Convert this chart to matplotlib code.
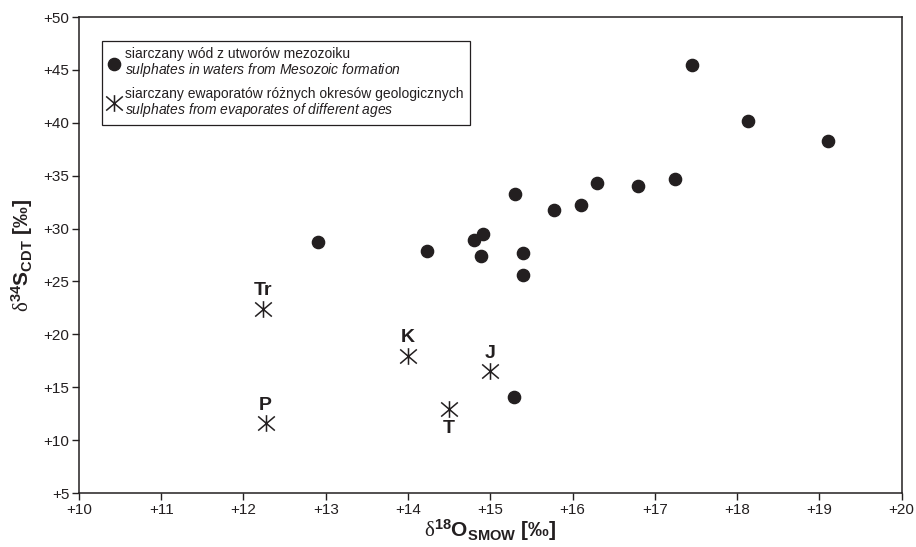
import matplotlib
matplotlib.use('Agg')
import matplotlib.pyplot as plt
from matplotlib.lines import Line2D
from matplotlib.path import Path

plt.rcParams['font.family'] = ['Liberation Sans', 'DejaVu Sans']
plt.rcParams['mathtext.fontset'] = 'custom'
plt.rcParams['mathtext.rm'] = 'Liberation Sans:bold'
plt.rcParams['mathtext.it'] = 'Liberation Sans:italic'
plt.rcParams['mathtext.bf'] = 'Liberation Sans:bold'
plt.rcParams['mathtext.sf'] = 'Liberation Serif'

# sulphates in waters from Mesozoic formation
water_o = [12.90, 14.23, 14.80, 14.91, 14.89, 15.30, 15.40, 15.40, 15.78,
           16.10, 16.30, 16.80, 17.25, 17.45, 18.13, 19.11, 15.29]
water_s = [28.7, 27.9, 28.9, 29.5, 27.4, 33.3, 27.7, 25.6, 31.8,
           32.2, 34.3, 34.0, 34.7, 45.5, 40.2, 38.3, 14.1]

# evaporites of different ages
evap_names = ['Tr', 'K', 'J', 'P', 'T']
evap_o = [12.24, 14.00, 15.00, 12.27, 14.50]
evap_s = [22.4, 18.0, 16.5, 11.6, 12.9]
label_below = ['T']

xticks = list(range(10, 21))
yticks = list(range(5, 51, 5))

ink = '#231f20'

# vertical bar plus an X, like in the original figure
star = Path([(0, -1), (0, 1), (-1, -0.85), (1, 0.85), (-1, 0.85), (1, -0.85)],
            [Path.MOVETO, Path.LINETO, Path.MOVETO, Path.LINETO, Path.MOVETO, Path.LINETO])

fig = plt.figure(figsize=(9.16, 5.47), dpi=100)
ax = fig.add_axes([0.0862, 0.0987, 0.898, 0.8702])

ax.plot(water_o, water_s, 'o', color=ink, ms=8.8, ls='none')
ax.plot(evap_o, evap_s, marker=star, color=ink, ms=12, mew=1.1, ls='none')

for name, x, y in zip(evap_names, evap_o, evap_s):
    if name in label_below:
        ax.annotate(name, (x, y), xytext=(0, -14), textcoords='offset points',
                    ha='center', va='center', fontsize=14, fontweight='bold', color=ink)
    else:
        ax.annotate(name, (x, y), xytext=(0, 13), textcoords='offset points',
                    ha='center', va='center', fontsize=14, fontweight='bold', color=ink)

ax.set_xlim(10, 20)
ax.set_ylim(5, 50)
ax.set_xticks(xticks)
ax.set_yticks(yticks)
ax.set_xticklabels(['+%d' % t for t in xticks])
ax.set_yticklabels(['+%d' % t for t in yticks])
ax.tick_params(direction='out', length=5, width=1, labelsize=11, colors=ink, pad=2)
for sp in ax.spines.values():
    sp.set_linewidth(1.1)
    sp.set_color(ink)

ax.set_xlabel(r'$\mathsf{\delta}^{\mathrm{18}}\mathrm{O}_{\mathrm{SMOW}}$ [‰]',
              fontsize=15, fontweight='bold', color=ink, labelpad=0)
ax.set_ylabel(r'$\mathsf{\delta}^{\mathrm{34}}\mathrm{S}_{\mathrm{CDT}}$ [‰]',
              fontsize=15, fontweight='bold', color=ink, labelpad=6)

handles = [
    Line2D([], [], marker='o', color=ink, ms=8.8, ls='none'),
    Line2D([], [], marker=star, color=ink, ms=12, mew=1.1, ls='none'),
]
labels = [
    'siarczany wód z utworów mezozoiku\n' + r'$sulphates\ in\ waters\ from\ Mesozoic\ formation$',
    'siarczany ewaporatów różnych okresów geologicznych\n' + r'$sulphates\ from\ evaporates\ of\ different\ ages$',
]
leg = ax.legend(handles, labels, loc='upper left', bbox_to_anchor=(0.028, 0.95),
                fontsize=10, frameon=True, fancybox=False, framealpha=1,
                edgecolor=ink, handlelength=0.8, handletextpad=0.4,
                borderpad=0.45, labelspacing=0.55, borderaxespad=0)
leg.get_frame().set_linewidth(0.9)
for t in leg.get_texts():
    t.set_color(ink)
    t.set_linespacing(1.0)

fig.savefig('out.png', dpi=100)
